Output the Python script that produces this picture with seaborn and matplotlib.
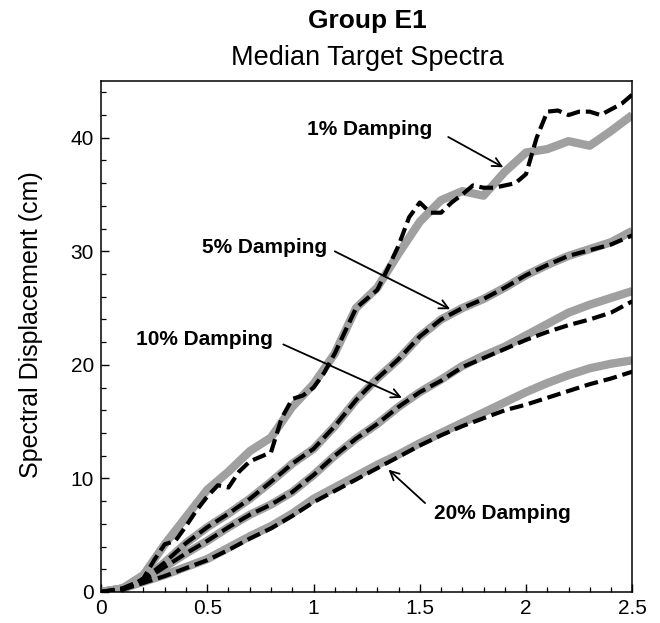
import numpy as np
import pandas as pd
import matplotlib
matplotlib.use("Agg")
import matplotlib.pyplot as plt
from matplotlib.ticker import MultipleLocator
import seaborn as sns

# Periodos (s)
periods = [0.0, 0.1, 0.2, 0.3, 0.4, 0.5, 0.6, 0.7, 0.8, 0.9, 1.0, 1.1, 1.2,
           1.3, 1.4, 1.5, 1.6, 1.7, 1.8, 1.9, 2.0, 2.1, 2.2, 2.3, 2.4, 2.5]
periods_fine = [round(0.05 * i, 2) for i in range(51)]

# Espectros alvo (cinza, grosso)
target_1 = [0.0, 0.3, 1.5, 4.2, 6.6, 9.0, 10.6, 12.4, 13.6, 16.3, 18.3, 21.0, 25.0,
            26.8, 29.8, 32.6, 34.5, 35.3, 34.9, 37.0, 38.7, 39.0, 39.7, 39.3, 40.6, 42.0]
target_5 = [0.0, 0.3, 1.1, 2.6, 4.3, 5.7, 6.9, 8.2, 9.7, 11.3, 12.6, 14.6, 16.9,
            18.8, 20.5, 22.5, 24.0, 25.0, 25.8, 26.8, 27.9, 28.8, 29.6, 30.2, 30.8, 31.8]
target_10 = [0.0, 0.3, 1.0, 2.2, 3.4, 4.5, 5.7, 6.8, 7.7, 8.8, 10.3, 12.0, 13.5,
             14.8, 16.3, 17.6, 18.7, 19.9, 20.8, 21.6, 22.6, 23.6, 24.6, 25.3, 25.9, 26.5]
target_20 = [0.0, 0.3, 0.9, 1.5, 2.2, 2.9, 3.9, 4.9, 5.8, 6.9, 8.2, 9.2, 10.2,
             11.2, 12.1, 13.1, 14.0, 14.9, 15.8, 16.7, 17.6, 18.4, 19.1, 19.7, 20.1, 20.4]

# Medianas (preto, tracejado)
median_1 = [0.0, 0.0, 0.2, 0.6, 1.2, 2.8, 4.2, 4.5, 5.8, 7.2, 8.4, 9.4, 9.2, 10.6, 11.5,
            11.9, 12.3, 15.3, 17.0, 17.3, 18.0, 19.3, 21.0, 23.0, 25.0, 25.8, 26.6, 28.5,
            30.5, 33.0, 34.3, 33.4, 33.4, 34.3, 35.0, 35.8, 35.6, 35.6, 35.8, 36.0, 36.8,
            40.0, 42.3, 42.4, 42.0, 42.3, 42.3, 42.0, 42.5, 43.0, 43.8]
median_5 = [0.0, 0.3, 1.1, 2.6, 4.3, 5.7, 6.9, 8.2, 9.7, 11.3, 12.6, 14.6, 16.9,
            18.8, 20.5, 22.5, 24.0, 25.0, 25.8, 26.8, 27.9, 28.8, 29.6, 30.1, 30.6, 31.4]
median_10 = [0.0, 0.3, 1.0, 2.2, 3.4, 4.5, 5.7, 6.8, 7.7, 8.8, 10.3, 12.0, 13.5,
             14.8, 16.3, 17.6, 18.6, 19.8, 20.6, 21.4, 22.2, 22.9, 23.5, 24.0, 24.6, 25.6]
median_20 = [0.0, 0.2, 0.8, 1.4, 2.1, 2.8, 3.7, 4.7, 5.6, 6.7, 7.9, 8.9, 9.9,
             10.9, 11.9, 12.9, 13.8, 14.6, 15.3, 16.0, 16.5, 17.1, 17.7, 18.3, 18.8, 19.4]

# Rotulos: texto, posicao do texto, cauda e ponta da seta
labels = ["1% Damping", "5% Damping", "10% Damping", "20% Damping"]
label_xy = [(1.266, 40.7), (0.768, 30.3), (0.485, 22.2), (1.887, 6.95)]
arrow_tail = [(1.634, 40.07), (1.10, 30.0), (0.858, 21.8), (1.525, 7.83)]
arrow_head = [(1.893, 37.4), (1.643, 24.9), (1.416, 17.1), (1.353, 10.77)]

sns.set_style("ticks")
plt.rcParams['font.family'] = ['Liberation Sans', 'DejaVu Sans']
plt.rcParams.update({'text.color': 'black', 'axes.labelcolor': 'black',
                     'xtick.color': 'black', 'ytick.color': 'black',
                     'axes.edgecolor': 'black'})

fig = plt.figure(figsize=(6.6, 6.23), dpi=100)
ax = fig.add_axes([0.153, 0.0498, 0.805, 0.8202])

gray = "#a0a0a0"
for t in [target_1, target_5, target_10, target_20]:
    sns.lineplot(x=periods, y=t, ax=ax, color=gray, linewidth=6,
                 solid_capstyle='butt', solid_joinstyle='round')

dash = (0, (3.3, 1.4))
sns.lineplot(x=periods_fine, y=median_1, ax=ax, color="black", linewidth=3,
             linestyle=dash)
for m in [median_5, median_10, median_20]:
    sns.lineplot(x=periods, y=m, ax=ax, color="black", linewidth=3,
                 linestyle=dash)

for lab, xy, tail, head in zip(labels, label_xy, arrow_tail, arrow_head):
    ax.text(xy[0], xy[1], lab, ha='center', va='center', fontsize=15,
            fontweight='bold', color='black')
    ax.annotate("", xy=head, xytext=tail,
                arrowprops=dict(arrowstyle='->', color='black', lw=1.3,
                                mutation_scale=16, shrinkA=0, shrinkB=0))

ax.set_xlim(0, 2.5)
ax.set_ylim(0, 45)
ax.set_xticks([0, 0.5, 1, 1.5, 2, 2.5])
ax.set_xticklabels(["0", "0.5", "1", "1.5", "2", "2.5"])
ax.set_yticks([0, 10, 20, 30, 40])
ax.xaxis.set_minor_locator(MultipleLocator(0.1))
ax.yaxis.set_minor_locator(MultipleLocator(2))
ax.tick_params(which='major', direction='in', length=6, width=1, labelsize=15,
               colors='black', pad=5)
ax.tick_params(which='minor', direction='in', length=3.5, width=0.9,
               colors='black')
for s in ax.spines.values():
    s.set_visible(True)
    s.set_linewidth(1.1)
    s.set_color('black')

ax.set_xlabel("")
ax.set_ylabel("Spectral Displacement (cm)", fontsize=18)
ax.yaxis.set_label_coords(-0.11, 0.523)

fig.text(0.557, 0.966, "Group E1", ha='center', va='center', fontsize=19,
         fontweight='bold')
fig.text(0.557, 0.907, "Median Target Spectra", ha='center', va='center',
         fontsize=19.5)

fig.savefig("out.png", dpi=100)
